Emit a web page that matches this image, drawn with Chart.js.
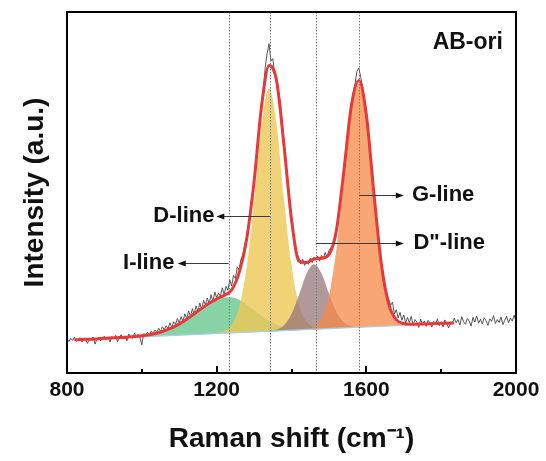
<!DOCTYPE html>
<html><head><meta charset="utf-8">
<script src="https://cdn.jsdelivr.net/npm/chart.js@4.4.1/dist/chart.umd.min.js"></script>
<style>html,body{margin:0;padding:0;background:#fff;}#wrap{width:546px;height:461px;}</style>
</head><body><div id="wrap"><canvas id="c" width="546" height="461"></canvas></div>
<script>
// ---- raw spectrum (Raman shift from rawStart, every rawStep cm-1) ----
const rawStart = 800, rawStep = 5;
const rawIntensity = [
 9.5,8.7,9.6,9.0,9.9,8.8,9.3,9.8,8.6,9.5,9.2,8.2,9.7,9.1,10.0,8.0,9.4,9.9,8.9,9.6,
 10.2,9.1,9.8,8.6,10.1,9.5,10.4,8.7,10.0,10.6,9.4,10.3,8.9,10.8,10.1,9.6,11.0,10.2,10.7,9.8,
 7.8,10.9,10.5,11.3,10.4,11.6,10.9,11.9,11.2,12.4,11.5,12.8,12.0,13.1,12.3,13.9,12.6,14.2,13.5,15.1,
 13.9,15.6,14.3,16.4,15.0,17.2,15.6,17.8,16.3,18.6,17.1,19.4,17.5,20.1,18.9,20.8,19.2,21.7,19.8,22.4,
 20.9,22.1,21.3,23.6,21.8,24.0,22.9,25.8,24.1,27.0,26.2,29.4,28.6,31.5,32.8,35.4,37.6,41.2,44.8,49.5,
 53.2,58.9,63.4,69.5,74.8,78.6,84.9,88.6,91.2,86.4,87.1,83.1,81.7,78.2,74.9,69.8,63.5,58.1,53.6,47.9,
 43.2,38.6,35.4,33.0,31.8,30.2,31.5,29.8,30.9,30.1,31.8,30.6,32.1,31.2,32.4,31.0,32.6,31.5,33.4,32.1,
 33.9,34.6,35.3,37.4,39.8,43.5,47.2,51.6,56.3,61.0,65.2,70.1,74.5,77.9,80.3,83.6,84.5,81.9,79.4,75.6,
 71.8,66.2,61.5,55.7,50.3,44.8,39.7,34.6,30.9,27.4,24.1,21.9,20.3,18.8,19.6,16.4,17.5,15.2,16.8,14.6,
 16.1,13.9,15.4,14.0,15.7,13.2,14.8,14.1,12.6,14.9,13.5,14.4,12.9,14.6,13.8,12.7,14.3,13.4,15.0,13.1,
 14.2,12.8,14.7,13.6,12.5,14.1,13.7,15.2,13.9,14.8,13.3,15.6,14.2,13.5,15.1,14.4,13.0,15.4,14.1,15.8,
 13.8,14.9,13.6,15.3,14.5,13.2,15.0,14.3,15.9,13.7,14.8,14.0,15.5,13.4,14.6,15.7,13.9,15.2,14.4,16.0,
 14.3
];

// ---- cumulative fit (red) ----
const fitShift = [820,840,860,880,900,920,940,960,980,1000,1020,1040,1060,1080,1100,1120,1140,1160,1180,1200,
 1220,1240,1260,1280,1300,1320,1340,1360,1380,1400,1420,1440,1460,1480,1500,1520,1540,1560,1580,1600,
 1620,1640,1660,1680,1700,1720,1740,1760,1780,1800,1820,1834];
const fitEnvelope = [9.2,9.3,9.35,9.45,9.6,9.7,9.8,9.9,10.1,10.3,10.6,11.0,11.7,12.5,13.6,14.9,16.4,17.9,19.3,20.5,
 21.5,23.0,27.8,37.0,53.0,74.0,85.2,81.0,63.0,42.5,31.0,30.6,31.6,31.8,32.8,39.5,56.0,74.0,81.0,71.5,
 50.0,30.3,19.0,14.8,13.7,13.5,13.55,13.6,13.7,13.75,13.8,13.85];

// ---- linear background ----
const baselineShift = [820, 1834];
const baselineIntensity = [9.19, 13.80];

// ---- fitted bands (absolute, on top of background) ----
const iLineShift = [900,920,940,960,980,1000,1020,1040,1060,1080,1100,1120,1140,1160,1180,1200,1220,1240,1260,1280,
 1300,1320,1340,1360,1380,1400,1420,1440,1460,1480,1500];
const iLine = [9.56,9.66,9.77,9.90,10.06,10.26,10.57,11.01,11.64,12.47,13.57,14.86,16.35,17.84,19.23,20.32,20.91,21.0,20.29,18.98,
 17.48,15.87,14.46,13.45,12.74,12.33,12.17,12.11,12.15,12.19,12.29];
const dLineShift = [1180,1200,1220,1240,1260,1280,1300,1320,1340,1360,1380,1400,1420,1440,1460,1480,1500];
const dLine = [10.83,11.07,11.61,13.3,18.19,29.28,47.58,69.07,78.76,69.25,47.94,29.83,18.92,14.21,12.7,12.34,12.29];
const ddLineShift = [1320,1340,1360,1380,1400,1420,1440,1460,1480,1500,1520,1540,1560,1580,1600];
const ddLine = [11.47,11.63,12.03,13.26,16.32,21.63,27.44,30.10,27.62,22.0,16.87,13.99,12.94,12.72,12.74];
const gLineShift = [1420,1440,1460,1480,1500,1520,1540,1560,1580,1600,1620,1640,1660,1680,1700,1720,1740,1760];
const gLine = [11.92,12.16,12.85,15.19,21.39,34.28,53.37,72.16,80.15,70.54,49.23,29.72,18.71,14.5,13.46,13.34,13.38,13.47];

// ---- axis ----
const xTickLabels = [800, 1200, 1600, 2000];
const peakMarkers = [1232, 1342, 1466, 1581];

const pts = (xs, ys) => xs.map((v, i) => ({x: v, y: ys[i]}));
const rawPts = rawIntensity.map((v, i) => ({x: rawStart + i * rawStep, y: v}));

const FONT = '"Liberation Sans", Arial, Helvetica, sans-serif';

// annotation layout (data coordinates)
const notes = [
  {text: 'AB-ori', x: 1965, y: 91.5, align: 'right', size: 23},
  {text: 'G-line', x: 1722, y: 49.3, align: 'left', from: 1581, to: 1700},
  {text: 'D"-line', x: 1726, y: 36.0, align: 'left', from: 1466, to: 1700},
  {text: 'D-line', x: 1194, y: 43.4, align: 'right', from: 1342, to: 1199},
  {text: 'I-line', x: 1087, y: 30.6, align: 'right', from: 1232, to: 1096}
];

const overlay = {
  id: 'overlay',
  afterDatasetsDraw(chart) {
    const {ctx, chartArea: a, scales: {x, y}} = chart;
    ctx.save();
    // dotted guide lines at the band centres
    ctx.strokeStyle = '#7a7a7a';
    ctx.lineWidth = 1;
    ctx.setLineDash([1.5, 1.5]);
    peakMarkers.forEach(v => {
      const px = Math.round(x.getPixelForValue(v)) + 0.5;
      ctx.beginPath(); ctx.moveTo(px, a.top); ctx.lineTo(px, a.bottom); ctx.stroke();
    });
    ctx.setLineDash([]);
    // arrows and labels
    ctx.textBaseline = 'middle';
    notes.forEach(n => {
      const ty = y.getPixelForValue(n.y);
      if (n.from !== undefined) {
        const x0 = x.getPixelForValue(n.from), x1 = x.getPixelForValue(n.to);
        const yy = Math.round(ty) + 0.5;
        const dir = Math.sign(x1 - x0);
        ctx.strokeStyle = '#3a3a3a'; ctx.fillStyle = '#111'; ctx.lineWidth = 1;
        ctx.beginPath(); ctx.moveTo(x0, yy); ctx.lineTo(x1 - dir * 6, yy); ctx.stroke();
        ctx.beginPath(); ctx.moveTo(x1, yy); ctx.lineTo(x1 - dir * 8, yy - 3); ctx.lineTo(x1 - dir * 8, yy + 3); ctx.closePath(); ctx.fill();
      }
      ctx.font = 'bold ' + (n.size || 22) + 'px ' + FONT;
      ctx.fillStyle = '#111';
      ctx.textAlign = n.align;
      ctx.fillText(n.text, x.getPixelForValue(n.x), ty);
    });
    // frame
    ctx.strokeStyle = '#000'; ctx.lineWidth = 2;
    ctx.strokeRect(a.left, a.top, a.width, a.height);
    // inward tick marks
    x.ticks.forEach(t => {
      const px = Math.round(x.getPixelForValue(t.value));
      const len = xTickLabels.includes(t.value) ? 7 : 4;
      ctx.beginPath(); ctx.moveTo(px, a.bottom); ctx.lineTo(px, a.bottom - len); ctx.stroke();
    });
    ctx.restore();
  }
};

const common = {pointRadius: 0, pointHoverRadius: 0, cubicInterpolationMode: 'monotone'};

new Chart(document.getElementById('c'), {
  type: 'line',
  data: {
    datasets: [
      Object.assign({label: 'background', data: pts(baselineShift, baselineIntensity), borderColor: '#a9cdec', borderWidth: 1.3, fill: false, order: 5}, common),
      Object.assign({label: 'I-line', data: pts(iLineShift, iLine), borderWidth: 0, borderColor: 'rgba(0,0,0,0)', backgroundColor: 'rgba(95,196,135,0.75)', fill: 0, order: 9}, common),
      Object.assign({label: 'D-line', data: pts(dLineShift, dLine), borderWidth: 0, borderColor: 'rgba(0,0,0,0)', backgroundColor: 'rgba(238,200,85,0.8)', fill: 0, order: 8}, common),
      Object.assign({label: 'D"-line', data: pts(ddLineShift, ddLine), borderWidth: 0, borderColor: 'rgba(0,0,0,0)', backgroundColor: 'rgba(148,116,120,0.74)', fill: 0, order: 7}, common),
      Object.assign({label: 'G-line', data: pts(gLineShift, gLine), borderWidth: 0, borderColor: 'rgba(0,0,0,0)', backgroundColor: 'rgba(245,138,70,0.75)', fill: 0, order: 6}, common),
      {label: 'raw', data: rawPts, borderColor: '#444', borderWidth: 0.9, pointRadius: 0, tension: 0, fill: false, order: 2},
      Object.assign({label: 'fit', data: pts(fitShift, fitEnvelope), borderColor: '#e8383a', borderWidth: 3, fill: false, order: 1}, common)
    ]
  },
  options: {
    responsive: false,
    animation: false,
    devicePixelRatio: 1,
    layout: {padding: {top: 12, right: 30, bottom: 0, left: 0}},
    plugins: {legend: {display: false}, tooltip: {enabled: false}},
    scales: {
      x: {
        type: 'linear', min: 800, max: 2000,
        grid: {display: false, drawTicks: false}, border: {display: false},
        ticks: {stepSize: 200, autoSkip: false, maxRotation: 0, padding: 5, color: '#111',
          font: {family: FONT, size: 21, weight: 'bold'},
          callback: v => xTickLabels.includes(v) ? String(v) : ''},
        title: {display: true, text: 'Raman shift (cm\u207B\u00B9)', color: '#111',
          font: {family: FONT, size: 28, weight: 'bold'}, padding: {top: 0, bottom: 5}},
        afterFit: s => { s.height = 88; }
      },
      y: {
        min: 0, max: 100,
        grid: {display: false, drawTicks: false}, border: {display: false},
        ticks: {display: false},
        title: {display: true, text: 'Intensity (a.u.)', color: '#111',
          font: {family: FONT, size: 28, weight: 'bold'}, padding: {top: 18, bottom: 0}},
        afterFit: s => { s.width = 67; }
      }
    }
  },
  plugins: [overlay]
});
</script></body></html>
